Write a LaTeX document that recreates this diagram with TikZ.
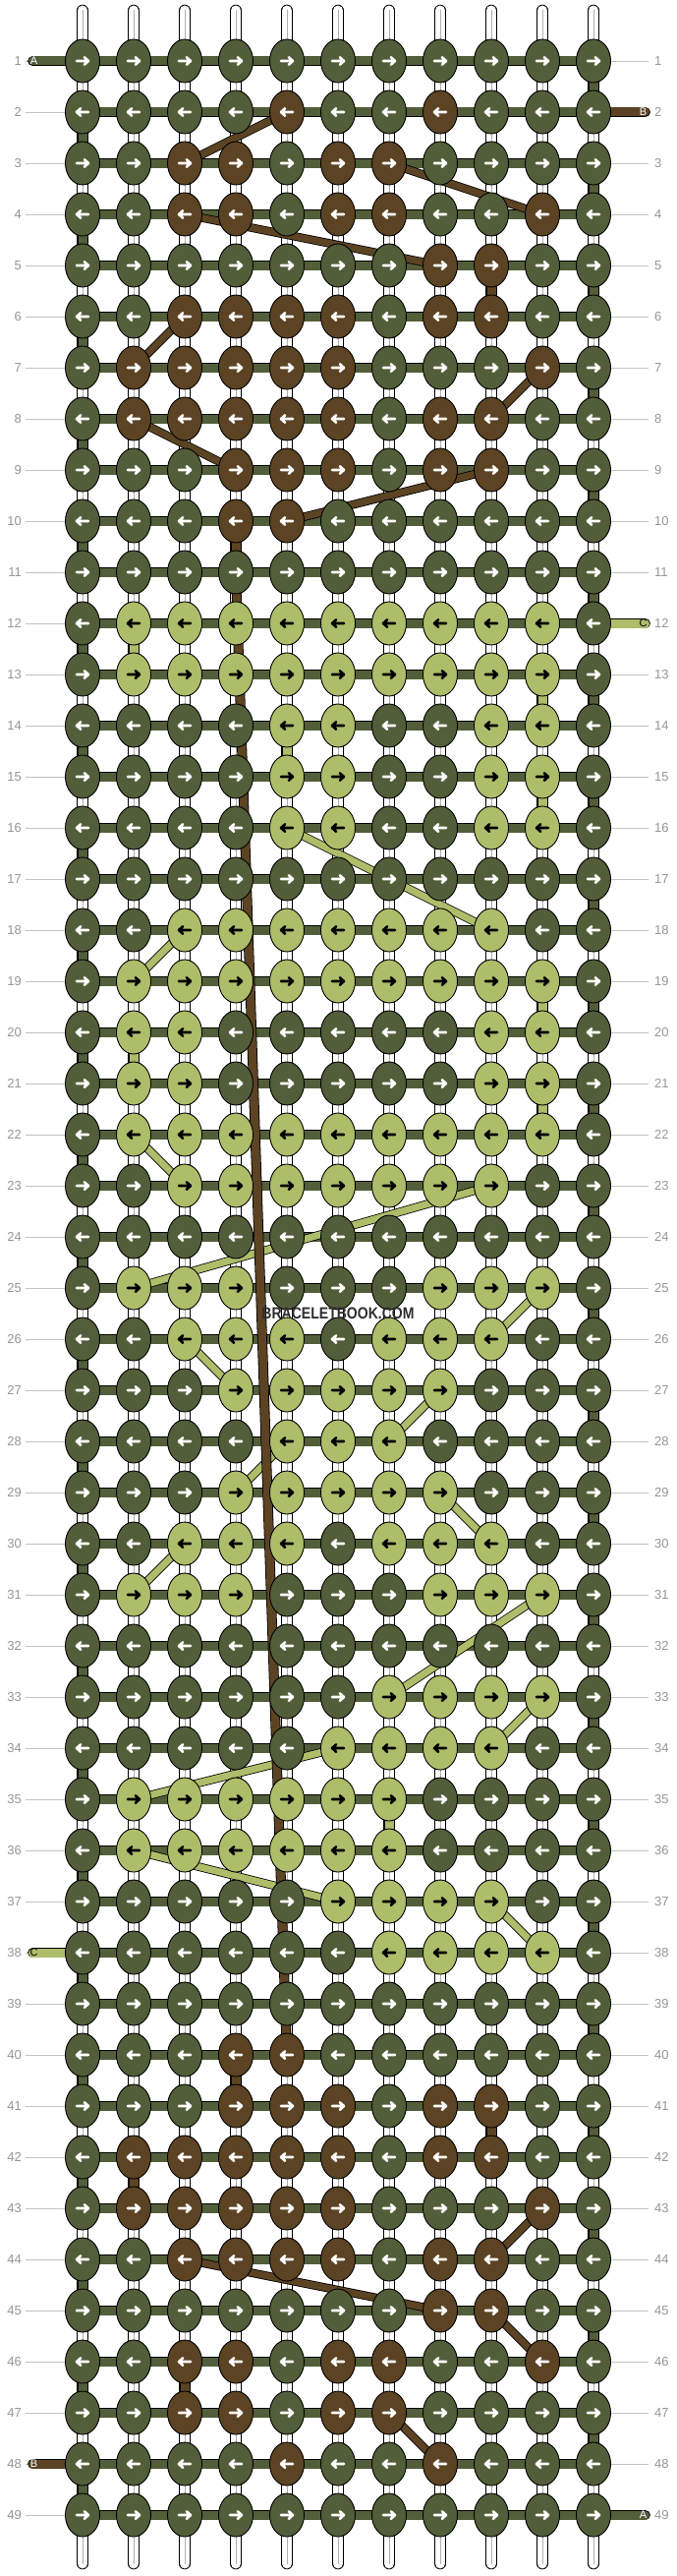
\documentclass[tikz,border=0pt]{standalone}
\usepackage{fontspec}
\setmainfont{Liberation Sans}
\usetikzlibrary{shapes.geometric}
\definecolor{dk}{RGB}{82,94,57}
\definecolor{br}{RGB}{92,67,35}
\definecolor{lt}{RGB}{174,189,106}
\definecolor{lblc}{RGB}{150,150,150}
\definecolor{lnc}{RGB}{195,195,195}
\definecolor{strc}{RGB}{175,175,175}
\definecolor{wmc}{RGB}{45,45,45}
\pgfdeclarelayer{bg}
\pgfdeclarelayer{strings}
\pgfdeclarelayer{bands}
\pgfdeclarelayer{threads}
\pgfdeclarelayer{front}
\pgfsetlayers{bg,strings,bands,threads,main,front}
\newcommand\markknots[3]{\foreach \cc in {#2}{\expandafter\xdef\csname kc-#1-\cc\endcsname{#3}}}
\def\ltname{lt}
\tikzset{
  knot/.style={ellipse, draw=black, line width=0.9, minimum width=35, minimum height=44, inner sep=0},
  arrowmark/.style={line width=2.6, line cap=round, line join=round},
  warp/.style={draw=black, line width=0.8, double=white, double distance=10, line cap=round},
  warpline/.style={draw=strc, line width=0.8},
  band/.style={draw=black, line width=0.9, double=#1, double distance=9},
  tail/.style={draw=black, line width=0.9, double=#1, double distance=9, line cap=round},
  thread/.style={draw=black, line width=0.8, double=#1, double distance=7},
  labelline/.style={draw=lnc, line width=0.9},
  rowlabel/.style={text=lblc, font=\fontsize{13}{13}\selectfont, inner sep=0},
  taillabel/.style={font=\fontsize{11}{11}\selectfont, inner sep=0},
}
% brown knots
\markknots{2}{5,8}{br}
\markknots{3}{3,4,6,7}{br}
\markknots{4}{3,4,6,7,10}{br}
\markknots{5}{8,9}{br}
\markknots{6}{3,4,5,6,8,9}{br}
\markknots{7}{2,3,4,5,6,10}{br}
\markknots{8}{2,3,4,5,6,8,9}{br}
\markknots{9}{4,5,6,8,9}{br}
\markknots{10}{4,5}{br}
\markknots{40}{4,5}{br}
\markknots{41}{4,5,6,8,9}{br}
\markknots{42}{2,3,4,5,6,8,9}{br}
\markknots{43}{2,3,4,5,6,10}{br}
\markknots{44}{3,4,5,6,8,9}{br}
\markknots{45}{8,9}{br}
\markknots{46}{3,4,6,7,10}{br}
\markknots{47}{3,4,6,7}{br}
\markknots{48}{5,8}{br}
% light knots
\markknots{12}{2,...,10}{lt}
\markknots{13}{2,...,10}{lt}
\markknots{14}{5,6,9,10}{lt}
\markknots{15}{5,6,9,10}{lt}
\markknots{16}{5,6,9,10}{lt}
\markknots{18}{3,...,9}{lt}
\markknots{19}{2,...,10}{lt}
\markknots{20}{2,3,9,10}{lt}
\markknots{21}{2,3,9,10}{lt}
\markknots{22}{2,...,10}{lt}
\markknots{23}{3,...,9}{lt}
\markknots{25}{2,3,4,8,9,10}{lt}
\markknots{26}{3,4,5,7,8,9}{lt}
\markknots{27}{4,...,8}{lt}
\markknots{28}{5,6,7}{lt}
\markknots{29}{4,...,8}{lt}
\markknots{30}{3,4,5,7,8,9}{lt}
\markknots{31}{2,3,4,8,9,10}{lt}
\markknots{33}{7,8,9,10}{lt}
\markknots{34}{6,7,8,9}{lt}
\markknots{35}{2,...,7}{lt}
\markknots{36}{2,...,7}{lt}
\markknots{37}{6,7,8,9}{lt}
\markknots{38}{7,8,9,10}{lt}
\begin{document}
\begin{tikzpicture}[x=1pt,y=-1pt]
\useasboundingbox (0,0) rectangle (688,2620);
\begin{pgfonlayer}{bg}
  \fill[white] (0,0) rectangle (688,2620);
\end{pgfonlayer}
% knots
\foreach \r in {1,...,49}{
  \pgfmathtruncatemacro\yy{62+52*(\r-1)}
  \ifodd\r\relax \def\as{-6}\def\ae{6}\def\ah{1.8}\else \def\as{6}\def\ae{-6}\def\ah{-1.8}\fi
  \foreach \c in {1,...,11}{
    \pgfmathtruncatemacro\xx{84+52*(\c-1)}
    \ifcsname kc-\r-\c\endcsname \edef\kf{\csname kc-\r-\c\endcsname}\else\def\kf{dk}\fi
    \ifx\kf\ltname \def\ac{black}\else\def\ac{white}\fi
    \node[knot, fill=\kf] (k-\r-\c) at (\xx,\yy) {};
    \draw[arrowmark, draw=\ac] (k-\r-\c.center) +(\as,0) -- +(\ae,0) +(\ah,3.8) -- +(\ae,0) -- +(\ah,-3.8);
  }
}
% warp strings and row labels
\begin{pgfonlayer}{strings}
\foreach \c in {1,...,11}{
  \pgfmathtruncatemacro\xx{84+52*(\c-1)}
  \coordinate (wt-\c) at (\xx,10.5);
  \coordinate (wb-\c) at (\xx,2607.5);
  \draw[warp] (wt-\c) -- (wb-\c);
  \draw[warpline] (wt-\c) -- (wb-\c);
}
\foreach \r in {1,...,49}{
  \pgfmathtruncatemacro\yy{62+52*(\r-1)}
  \coordinate (ll-\r) at (26,\yy);
  \coordinate (rl-\r) at (660,\yy);
  \draw[labelline] (ll-\r) -- (k-\r-1.center);
  \draw[labelline] (k-\r-11.center) -- (rl-\r);
  \node[rowlabel, anchor=east] (lab-l-\r) at (22,\yy) {\r};
  \node[rowlabel, anchor=west] (lab-r-\r) at (666,\yy) {\r};
}
\end{pgfonlayer}
% working bands, edge turns, vertical thread runs, tails
\begin{pgfonlayer}{bands}
\foreach \r in {1,...,49}{\draw[band=dk] (k-\r-1.center) -- (k-\r-11.center);}
\foreach \r in {2,4,...,48}{\pgfmathtruncatemacro\rn{\r+1}\draw[band=dk] (k-\r-1.center) -- (k-\rn-1.center);}
\foreach \r in {1,3,...,47}{\pgfmathtruncatemacro\rn{\r+1}\draw[band=dk] (k-\r-11.center) -- (k-\rn-11.center);}
\foreach \a/\b/\c in {5/6/9, 10/11/4, 40/41/4, 41/42/9, 42/43/2, 46/47/3}
  {\draw[band=br] (k-\a-\c.center) -- (k-\b-\c.center);}
\foreach \a/\b/\c in {12/13/2, 13/14/10, 14/15/5, 15/16/10, 19/20/10, 20/21/2, 21/22/10, 35/36/7}
  {\draw[band=lt] (k-\a-\c.center) -- (k-\b-\c.center);}
\coordinate (tA1) at (33.5,62);
\coordinate (tB2) at (656.5,114);
\coordinate (tC12) at (656.5,634);
\coordinate (tC38) at (33.5,1986);
\coordinate (tB48) at (33.5,2506);
\coordinate (tA49) at (656.5,2558);
\draw[tail=dk] (tA1) -- (k-1-1.center);
\draw[tail=br] (tB2) -- (k-2-11.center);
\draw[tail=lt] (tC12) -- (k-12-11.center);
\draw[tail=lt] (tC38) -- (k-38-1.center);
\draw[tail=br] (tB48) -- (k-48-1.center);
\draw[tail=dk] (tA49) -- (k-49-11.center);
\end{pgfonlayer}
% diagonal thread runs
\begin{pgfonlayer}{threads}
\foreach \a/\p/\b/\q in {16/5/18/9, 18/3/19/2, 22/2/23/3, 23/9/25/2, 25/10/26/9, 26/3/27/4, 27/8/28/7, 28/5/29/4, 29/8/30/9, 30/3/31/2, 31/10/33/7, 33/10/34/9, 34/6/35/2, 36/2/37/6, 37/9/38/10}
  {\draw[thread=lt] (k-\a-\p.center) -- (k-\b-\q.center);}
\foreach \a/\p/\b/\q in {2/5/3/3, 3/7/4/10, 4/3/5/8, 6/3/7/2, 7/10/8/9, 8/2/9/4, 9/9/10/5, 43/10/44/9, 44/3/45/8, 45/9/46/10, 47/7/48/8}
  {\draw[thread=br] (k-\a-\p.center) -- (k-\b-\q.center);}
\draw[draw=black, line width=0.8, double=br, double distance=8.5] (k-11-4.center) -- (k-40-5.center);
\end{pgfonlayer}
\begin{pgfonlayer}{front}
\node[taillabel, text=white] (lA1) at (34.5,62) {A};
\node[taillabel, text=white] (lB2) at (654.5,114) {B};
\node[taillabel, text=black] (lC12) at (654.5,634) {C};
\node[taillabel, text=black] (lC38) at (34.5,1986) {C};
\node[taillabel, text=white] (lB48) at (34.5,2506) {B};
\node[taillabel, text=white] (lA49) at (654.5,2558) {A};
\node[text=wmc, font=\fontsize{16.5}{16.5}\selectfont\bfseries, inner sep=0] (wm) at (344,1336) {\scalebox{0.85}[1]{BRACELETBOOK.COM}};
\end{pgfonlayer}
\end{tikzpicture}
\end{document}
